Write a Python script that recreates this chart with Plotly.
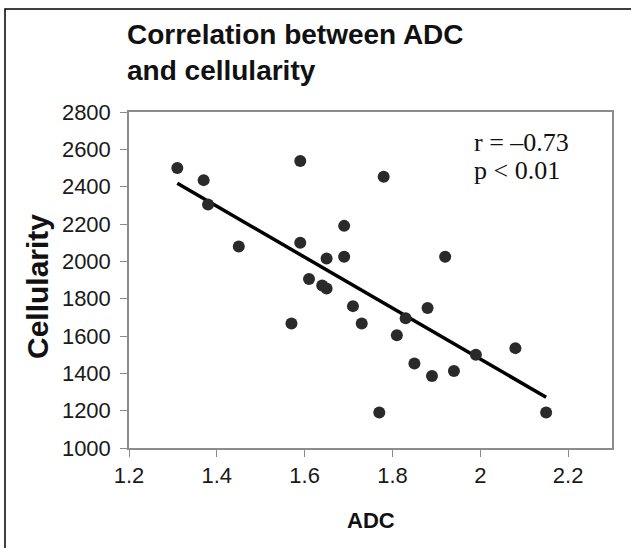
import plotly.graph_objects as go

# Data
adc = [1.31, 1.37, 1.38, 1.45, 1.59, 1.59, 1.61, 1.57, 1.78, 1.69, 1.65, 1.69,
       1.92, 1.64, 1.65, 1.71, 1.73, 1.88, 1.83, 1.81, 1.85, 1.89, 1.94, 1.99,
       2.08, 1.77, 2.15]
cellularity = [2500, 2435, 2305, 2080, 2537, 2100, 1905, 1667, 2453, 2190, 2015, 2025,
               2025, 1870, 1855, 1760, 1667, 1750, 1695, 1604, 1453, 1386, 1413, 1500,
               1535, 1190, 1190]
trend_x = [1.31, 2.15]
trend_y = [2418, 1272]

x_ticks = [1.2, 1.4, 1.6, 1.8, 2.0, 2.2]
x_tick_labels = ["1.2", "1.4", "1.6", "1.8", "2", "2.2"]
y_ticks = [1000, 1200, 1400, 1600, 1800, 2000, 2200, 2400, 2600, 2800]

title_lines = ["Correlation between ADC", "and cellularity"]
stat_lines = ["r = \u20130.73", "p < 0.01"]

W, H = 631, 548
L, R, T, B = 129, 19, 112, 100
PW, PH = W - L - R, H - T - B


def px_x(p):
    return (p - L) / PW


def px_y(p):
    return (H - B - p) / PH


fig = go.Figure()
fig.add_trace(go.Scatter(x=trend_x, y=trend_y, mode="lines",
                         line=dict(color="black", width=3.5), showlegend=False,
                         hoverinfo="skip"))
fig.add_trace(go.Scatter(x=adc, y=cellularity, mode="markers",
                         marker=dict(color="#2a2a2a", size=12), showlegend=False))

axis_common = dict(showline=True, linecolor="#8c8c8c", linewidth=1.5, mirror=True,
                   showgrid=False, zeroline=False, ticks="outside", ticklen=7,
                   tickcolor="#8c8c8c", tickwidth=1.2,
                   tickfont=dict(family="Liberation Sans, Arial", size=22, color="#1a1a1a"))

fig.update_xaxes(range=[1.2, 2.3], tickvals=x_ticks, ticktext=x_tick_labels,
                 ticklabelstandoff=0, **axis_common)
fig.update_yaxes(range=[1000, 2800], tickvals=y_ticks, ticklabelstandoff=5,
                 **axis_common)

annotations = [
    dict(text="<b>" + title_lines[0] + "</b><br><b>" + title_lines[1] + "</b>",
         xref="paper", yref="paper", x=px_x(125), y=px_y(17),
         xanchor="left", yanchor="top", align="left", showarrow=False,
         font=dict(family="Liberation Sans, Arial", size=28, color="#111111")),
    dict(text="<b>Cellularity</b>", xref="paper", yref="paper", x=px_x(37), y=px_y(287),
         xanchor="center", yanchor="middle", textangle=-90, showarrow=False,
         font=dict(family="Liberation Sans, Arial", size=30, color="#111111")),
    dict(text="<b>ADC</b>", xref="paper", yref="paper", x=px_x(371), y=px_y(520),
         xanchor="center", yanchor="middle", showarrow=False,
         font=dict(family="Liberation Sans, Arial", size=22, color="#111111")),
    dict(text=stat_lines[0], xref="paper", yref="paper", x=px_x(472), y=px_y(142),
         xanchor="left", yanchor="middle", showarrow=False,
         font=dict(family="Liberation Serif, Times New Roman", size=26, color="#111111")),
    dict(text=stat_lines[1], xref="paper", yref="paper", x=px_x(472), y=px_y(170),
         xanchor="left", yanchor="middle", showarrow=False,
         font=dict(family="Liberation Serif, Times New Roman", size=26, color="#111111")),
]

fig.update_layout(
    width=W, height=H,
    margin=dict(l=L, r=R, t=T, b=B, pad=0),
    paper_bgcolor="white", plot_bgcolor="white",
    annotations=annotations,
    shapes=[dict(type="rect", xref="paper", yref="paper",
                 x0=px_x(5), x1=px_x(660), y0=px_y(9), y1=px_y(600),
                 line=dict(color="black", width=1.5), fillcolor="rgba(0,0,0,0)",
                 layer="below")],
)

fig.write_html("out.html", config={"displayModeBar": False},
               post_script="document.body.style.margin='0';")
